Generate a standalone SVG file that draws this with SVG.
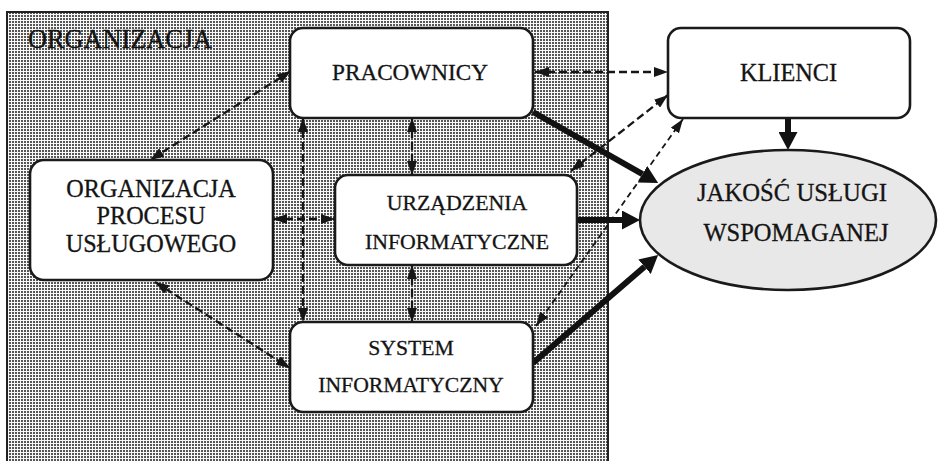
<svg xmlns="http://www.w3.org/2000/svg" width="940" height="461" viewBox="0 0 940 461">
<style>
.node{fill:#fff;stroke:#1a1a1a;stroke-width:2.6}
.ell{fill:#e8e8e8;stroke:#1a1a1a;stroke-width:2.6}
.t{fill:#141414;stroke:#141414;stroke-width:0.3;text-anchor:middle}
.dash{fill:none;stroke:#161616;stroke-width:2.3;stroke-dasharray:8 4;marker-start:url(#ad);marker-end:url(#ad)}
.dash2{fill:none;stroke:#161616;stroke-width:1.8;stroke-dasharray:6 4;marker-start:url(#ad);marker-end:url(#ad)}
.thick{fill:none;stroke:#111;stroke-width:6;marker-end:url(#at)}
</style>
<defs>
<pattern id="dots" width="3" height="3" patternUnits="userSpaceOnUse">
<rect width="3" height="3" fill="#f8f8f8"/>
<rect width="2" height="2" fill="#555"/>
</pattern>
<marker id="ad" viewBox="0 0 14 10" refX="14" refY="5" markerWidth="14" markerHeight="10" markerUnits="userSpaceOnUse" orient="auto-start-reverse">
<path d="M0,0 L14,5 L0,10 Z" fill="#161616"/>
</marker>
<marker id="at" viewBox="0 0 18 19" refX="0" refY="9.5" markerWidth="18" markerHeight="19" markerUnits="userSpaceOnUse" orient="auto">
<path d="M0,0 L18,9.5 L0,19 Z" fill="#111"/>
</marker>
</defs>

<g id="organizacja">
<rect x="7" y="12" width="601" height="470" fill="url(#dots)" stroke="#222" stroke-width="2"/>
<text x="28" y="48" font-size="26.3" font-family="'Liberation Serif', 'DejaVu Serif', serif" fill="#141414" stroke="#141414" stroke-width="0.3">ORGANIZACJA</text>
</g>

<g id="connectors">
<line class="dash" x1="535" y1="72" x2="668" y2="72"/>
<line class="dash" x1="291" y1="71" x2="150" y2="160"/>
<line class="dash" x1="303" y1="118" x2="303" y2="322"/>
<line class="dash" x1="412" y1="118" x2="412" y2="175"/>
<line class="dash" x1="412" y1="265" x2="412" y2="322"/>
<line class="dash" x1="273" y1="219" x2="335" y2="219"/>
<line class="dash" x1="155" y1="282" x2="290" y2="368"/>
<line class="dash" x1="571" y1="171" x2="668" y2="95"/>
<line class="dash2" x1="683" y1="119" x2="536" y2="326"/>
<line class="thick" x1="533" y1="112" x2="642.5" y2="174.2"/>
<line class="thick" x1="577" y1="220" x2="622" y2="220"/>
<line class="thick" x1="533" y1="363" x2="644.5" y2="266.8"/>
<line class="thick" x1="788" y1="118" x2="788" y2="132"/>
</g>

<g font-family="'Liberation Serif', 'DejaVu Serif', serif">
<g id="pracownicy">
<rect class="node" x="290" y="28" width="243" height="90" rx="13"/>
<text class="t" x="410" y="80" font-size="23.2">PRACOWNICY</text>
</g>

<g id="klienci">
<rect class="node" x="668" y="28" width="242" height="90" rx="13"/>
<text class="t" x="788.5" y="81" font-size="24.3">KLIENCI</text>
</g>

<g id="organizacja-procesu">
<rect class="node" x="30" y="160" width="243" height="120" rx="14"/>
<text class="t" x="151" y="197" font-size="24.2">ORGANIZACJA</text>
<text class="t" x="151" y="224" font-size="24.2">PROCESU</text>
<text class="t" x="151" y="252" font-size="24.2">USŁUGOWEGO</text>
</g>

<g id="urzadzenia">
<rect class="node" x="335" y="175" width="242" height="90" rx="13"/>
<text class="t" x="457" y="210" font-size="21.8">URZĄDZENIA</text>
<text class="t" x="457" y="249" font-size="21.8">INFORMATYCZNE</text>
</g>

<g id="system">
<rect class="node" x="290" y="322" width="243" height="90" rx="13"/>
<text class="t" x="411" y="355" font-size="21.7">SYSTEM</text>
<text class="t" x="411" y="392" font-size="21.7">INFORMATYCZNY</text>
</g>

<g id="jakosc">
<ellipse class="ell" cx="788" cy="220" rx="148" ry="70"/>
<text class="t" x="792" y="201" font-size="24.7">JAKOŚĆ USŁUGI</text>
<text class="t" x="796" y="241" font-size="24.5">WSPOMAGANEJ</text>
</g>
</g>
</svg>
